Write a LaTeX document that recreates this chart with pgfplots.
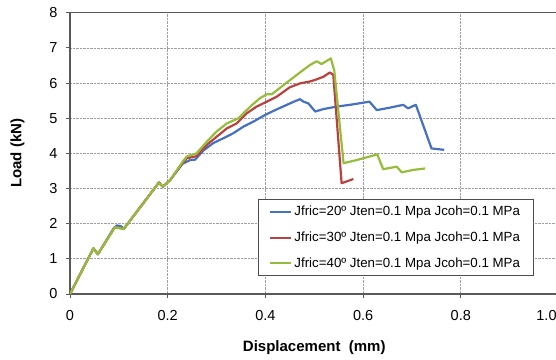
\documentclass[border=0pt]{standalone}
\usepackage{pgfplots}
\pgfplotsset{compat=1.18}
\usepackage{fontspec}
\setmainfont{Liberation Sans}
\definecolor{cblue}{HTML}{4670C0}
\definecolor{cred}{HTML}{B8423F}
\definecolor{cgreen}{HTML}{96BC3C}
\begin{document}
\begin{tikzpicture}
\path[use as bounding box] (0pt,0pt) rectangle (556pt,359pt);
\clip (0pt,0pt) rectangle (556pt,359pt);
\begin{axis}[
  scale only axis,
  width=488.5pt, height=281.3pt,
  at={(70pt,65pt)}, anchor=south west,
  xmin=0, xmax=1.0, ymin=0, ymax=8,
  xtick={0,0.2,0.4,0.6,0.8},
  xticklabels={0,0.2,0.4,0.6,0.8},
  extra x ticks={1.0},
  extra x tick labels={1.0},
  extra x tick style={grid=major, xticklabel style={xshift=-12pt}},
  ytick={0,1,...,8},
  xtick pos=bottom, ytick pos=left,
  tick align=outside, major tick length=4pt,
  tick style={gray!70!black, line width=0.8pt},
  grid=major,
  major grid style={densely dotted, gray!75, line width=0.7pt},
  axis line style={draw=gray!70!black, line width=1.2pt},
  /pgf/number format/assume math mode=true,
  ticklabel style={font=\fontsize{14.5}{16}\selectfont},
  xticklabel style={yshift=-9pt},
  yticklabel style={xshift=-5pt},
  xlabel={\bfseries Displacement\ \ (mm)},
  ylabel={\bfseries Load (kN)},
  label style={font=\fontsize{15}{17}\selectfont},
  xlabel style={yshift=-5pt},
  ylabel style={yshift=18pt},
  legend cell align=left,
  legend style={at={(rel axis cs:0.385,0.338)}, anchor=north west,
    draw=gray!60!black, line width=0.8pt, fill=white,
    font=\fontsize{13.3}{15}\selectfont,
    inner xsep=11pt, inner ysep=5pt, row sep=10.5pt},
  legend image code/.code={\draw[#1, line width=2pt] (0pt,0pt) -- (21pt,0pt);},
  every axis plot/.append style={line width=2.2pt, line join=round},
]
\addplot[cblue] coordinates {
(0,0) (0.048,1.30) (0.057,1.13) (0.090,1.88) (0.096,1.95) (0.104,1.93) (0.110,1.85)
(0.182,3.17) (0.190,3.05) (0.205,3.24) (0.230,3.70) (0.246,3.81) (0.256,3.82)
(0.273,4.08) (0.293,4.29) (0.314,4.43) (0.334,4.57) (0.355,4.76) (0.375,4.90)
(0.399,5.09) (0.423,5.25) (0.444,5.38) (0.460,5.48) (0.471,5.54) (0.478,5.47)
(0.488,5.42) (0.502,5.19) (0.519,5.26) (0.546,5.33) (0.573,5.38) (0.600,5.44)
(0.613,5.47) (0.628,5.23) (0.655,5.30) (0.682,5.38) (0.692,5.28) (0.708,5.38)
(0.740,4.14) (0.766,4.10)
};
\addlegendentry{Jfric=20º Jten=0.1 Mpa Jcoh=0.1 MPa}
\addplot[cred] coordinates {
(0,0) (0.048,1.30) (0.057,1.13) (0.092,1.90) (0.110,1.85)
(0.182,3.17) (0.190,3.05) (0.205,3.24) (0.230,3.72) (0.239,3.86) (0.259,3.92)
(0.280,4.24) (0.300,4.47) (0.321,4.71) (0.341,4.85) (0.362,5.14) (0.382,5.33)
(0.403,5.47) (0.423,5.61) (0.450,5.88) (0.471,5.99) (0.478,6.01) (0.490,6.04)
(0.502,6.09) (0.519,6.18) (0.532,6.30) (0.539,6.23) (0.556,3.15) (0.566,3.20)
(0.580,3.27)
};
\addlegendentry{Jfric=30º Jten=0.1 Mpa Jcoh=0.1 MPa}
\addplot[cgreen] coordinates {
(0,0) (0.048,1.30) (0.057,1.13) (0.092,1.90) (0.110,1.85)
(0.182,3.17) (0.190,3.05) (0.205,3.24) (0.230,3.75) (0.239,3.91) (0.259,4.00)
(0.280,4.33) (0.300,4.62) (0.321,4.85) (0.345,5.00) (0.369,5.33) (0.389,5.57)
(0.403,5.68) (0.413,5.68) (0.437,5.94) (0.464,6.23) (0.491,6.51) (0.505,6.62)
(0.515,6.54) (0.534,6.70) (0.541,6.35) (0.560,3.72) (0.587,3.81) (0.629,3.97)
(0.641,3.55) (0.669,3.62) (0.679,3.46) (0.703,3.53) (0.727,3.57)
};
\addlegendentry{Jfric=40º Jten=0.1 Mpa Jcoh=0.1 MPa}
\end{axis}
\end{tikzpicture}
\end{document}
